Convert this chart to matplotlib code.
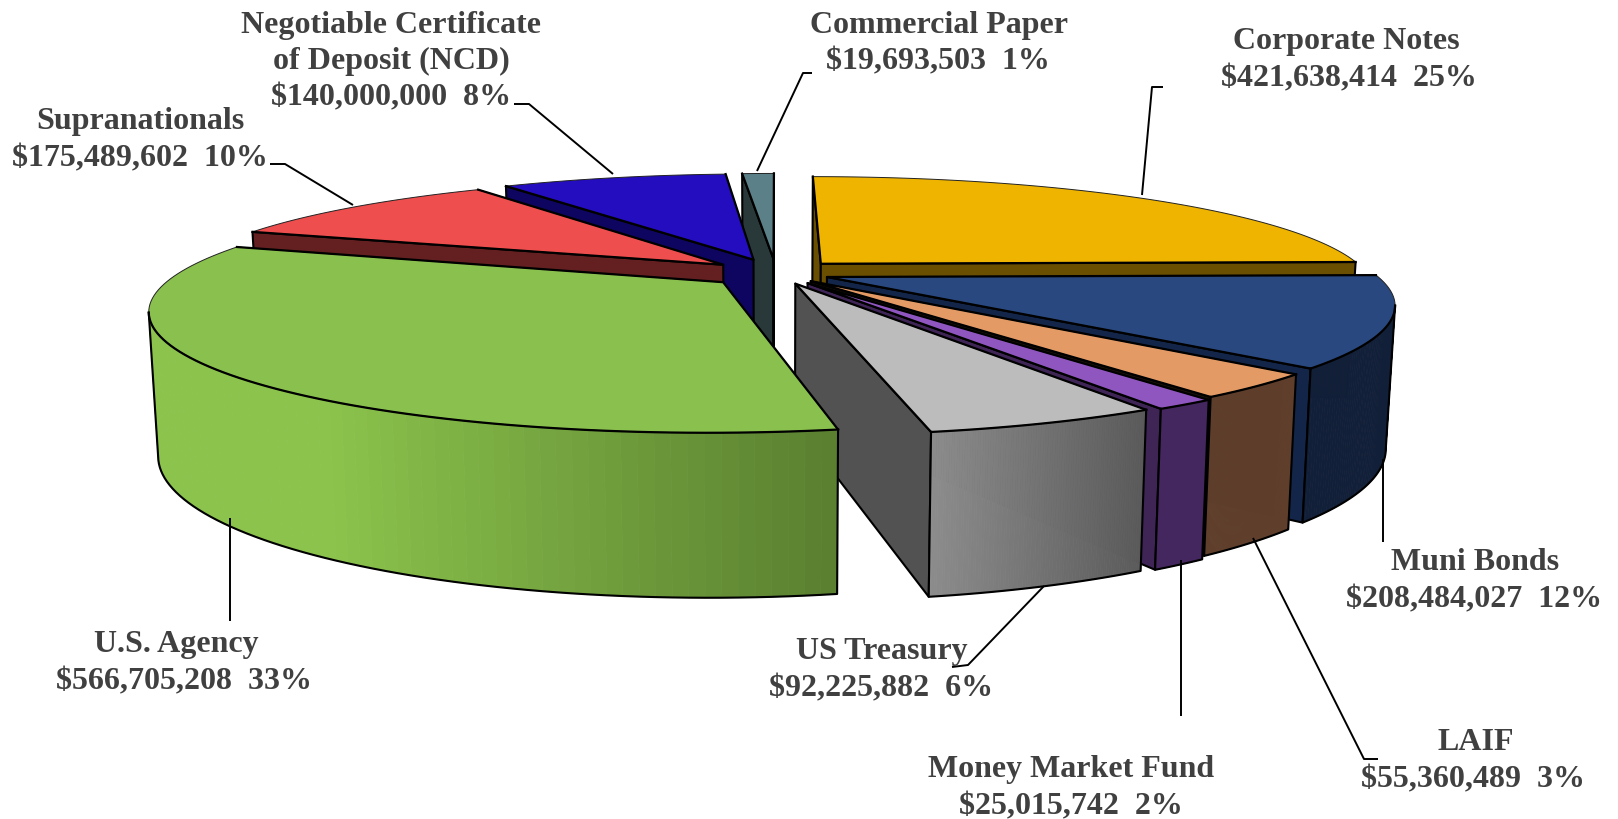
import numpy as np
import matplotlib
matplotlib.use('Agg')
import matplotlib.pyplot as plt
from matplotlib.colors import to_rgb

names = ['Corporate Notes', 'Muni Bonds', 'LAIF', 'Money Market Fund', 'US Treasury',
         'U.S. Agency', 'Supranationals', 'Negotiable Certificate\nof Deposit (NCD)',
         'Commercial Paper']
values = [421638414, 208484027, 55360489, 25015742, 92225882,
          566705208, 175489602, 140000000, 19693503]
pct_labels = ['25%', '12%', '3%', '2%', '6%', '33%', '10%', '8%', '1%']

explode = [0.119, 0.099, 0.095, 0.105, 0.100, 0.125, 0.124, 0.130, 0.130]
top_colors = ['#efb400', '#29487f', '#e39a65', '#9056c0', '#bcbcbc',
              '#8ac14e', '#ef4e4e', '#230dbf', '#5b8087']
side_colors = ['#6b4f00', '#13264a', '#1a1208', '#3f2456', '#525252',
               '#5a8030', '#641f20', '#0e0560', '#29393a']
# outer wall colours, left and right end of the gradient
rim_colors = [('#6b4f00', '#6b4f00'), ('#121f38', '#121f38'), ('#5f3f2b', '#5f3f2b'),
              ('#44275e', '#44275e'), ('#8c8c8c', '#5a5a5a'), ('#8bc34c', '#5a8030'),
              ('#641f20', '#641f20'), ('#0e0560', '#0e0560'), ('#29393a', '#29393a')]
draw_order = [8, 7, 6, 0, 1, 2, 3, 4, 5]

label_pos = [(1346, 42), (1475, 563), (1476, 743), (1071, 770), (882, 652),
             (176, 645), (140, 122), (391, 25), (939, 25)]
amount_dx = [3, -1, -3, 0, -1, 8, 0, 0, -1]
leaders = [[(1142, 196), (1152, 88), (1163, 88)],
           [(1383, 460), (1383, 543)],
           [(1253, 539), (1364, 760), (1378, 760)],
           [(1181, 561), (1181, 717)],
           [(1044, 587), (968, 666), (952, 668)],
           [(230, 519), (230, 622)],
           [(353, 206), (285, 165), (270, 165)],
           [(613, 175), (529, 105), (514, 105)],
           [(757, 172), (803, 74), (812, 74)]]

# projection of the pie disc
CX, CY = 776, 274
A, B = 547, 111
KX, KY = 0.22, 0.23
DEPTH = 137
SHRINK = 0.985


def project(x, y, low=False):
    x = np.asarray(x, dtype=float)
    y = np.asarray(y, dtype=float)
    sx = CX + A * x / (1 + KX * y)
    w = 1 + KY * y
    sy = CY - B * y / w
    if low:
        sx = CX + (sx - CX) * SHRINK
        sy = sy + DEPTH / w ** 0.65
    return sx, sy


def down_is_outward(p, q, inside):
    # the wall below edge p-q shows only if the top face lies on the other side
    ex, ey = q[0] - p[0], q[1] - p[1]
    c_in = ex * (inside[1] - p[1]) - ey * (inside[0] - p[0])
    c_down = ex * 1.0
    return c_in * c_down < 0


def rim_shade(i, sx):
    left, right = rim_colors[i]
    left, right = np.array(to_rgb(left)), np.array(to_rgb(right))
    if i == 5:
        f = np.clip((sx - 330) / (840 - 330), 0, 1)
    elif i == 4:
        f = np.clip((sx - 934) / (1150 - 934), 0, 1)
    else:
        f = 0
    return tuple(left + (right - left) * f)


def draw_slice(ax, i, t0, t1):
    mid = (t0 + t1) / 2
    ox, oy = explode[i] * np.sin(mid), explode[i] * np.cos(mid)
    th = np.linspace(t0, t1, 90)
    rx, ry = ox + np.sin(th), oy + np.cos(th)
    tx, ty = project(rx, ry)
    bx, by = project(rx, ry, low=True)
    ax0, ay0 = project(ox, oy)
    ax1, ay1 = project(ox, oy, low=True)
    inside = (np.mean(np.append(tx, ax0)), np.mean(np.append(ty, ay0)))

    # radial walls
    for k in (0, -1):
        if down_is_outward((ax0, ay0), (tx[k], ty[k]), inside):
            ax.fill([ax0, tx[k], bx[k], ax1], [ay0, ty[k], by[k], ay1],
                    facecolor=side_colors[i], edgecolor='black', linewidth=1.5, joinstyle='round')

    # outer wall, cut in thin strips for the gradient
    vis = [j for j in range(len(th) - 1)
           if down_is_outward((tx[j], ty[j]), (tx[j + 1], ty[j + 1]), inside)]
    if vis:
        for j in vis:
            c = rim_shade(i, tx[j])
            ax.fill([tx[j], tx[j + 1], bx[j + 1], bx[j]], [ty[j], ty[j + 1], by[j + 1], by[j]],
                    facecolor=c, edgecolor=c, linewidth=0.6)
        j0, j1 = vis[0], vis[-1] + 2
        ax.plot(np.r_[tx[j0], bx[j0:j1], tx[j1 - 1]], np.r_[ty[j0], by[j0:j1], ty[j1 - 1]],
                color='black', linewidth=1.5, solid_joinstyle='round')

    # top face
    ax.fill(np.r_[ax0, tx], np.r_[ay0, ty], facecolor=top_colors[i],
            edgecolor='#222222', linewidth=0.7, joinstyle='round')
    ax.plot([tx[0], ax0, tx[-1]], [ty[0], ay0, ty[-1]], color='black', linewidth=1.6,
            solid_joinstyle='round')
    if vis:
        j0, j1 = vis[0], vis[-1] + 2
        ax.plot(tx[j0:j1], ty[j0:j1], color='black', linewidth=1.6)


fig = plt.figure(figsize=(16.18, 8.2), dpi=100)
ax = fig.add_axes([0, 0, 1, 1])
ax.set_xlim(0, 1618)
ax.set_ylim(820, 0)
ax.axis('off')

shares = np.array(values) / sum(values)
edges = np.r_[0, np.cumsum(shares)] * 2 * np.pi

for i in draw_order:
    draw_slice(ax, i, edges[i], edges[i + 1])

for line in leaders:
    xs, ys = zip(*line)
    ax.plot(xs, ys, color='black', linewidth=1.4, solid_capstyle='butt')

for name, val, pct, (x, y), dx in zip(names, values, pct_labels, label_pos, amount_dx):
    lines = name.split('\n') + [f'${val:,}  {pct}']
    for n, text in enumerate(lines):
        tx = x + dx if n == len(lines) - 1 else x
        ax.text(tx, y + n * 36.5, text, ha='center', va='center', family='Liberation Serif',
                fontweight='bold', fontsize=23, color='#404040')

fig.savefig('out.png', dpi=100)
